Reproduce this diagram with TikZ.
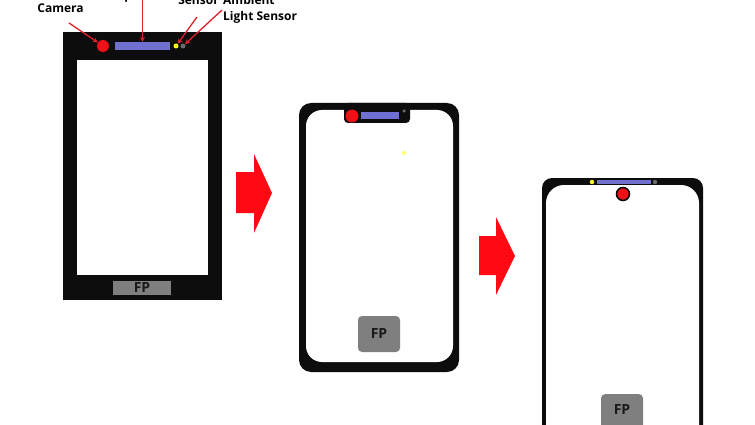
\documentclass[tikz,border=0pt]{standalone}
\usepackage{fontspec}
\setmainfont{Open Sans}
\usetikzlibrary{arrows.meta}
\definecolor{bez}{HTML}{0D0D0D}
\definecolor{camred}{HTML}{F01018}
\definecolor{spkblue}{HTML}{7070D0}
\definecolor{dotgrey}{HTML}{6A6A6A}
\definecolor{fpgrey}{HTML}{7F7F7F}
\definecolor{arrred}{HTML}{FF0A14}
\definecolor{linered}{HTML}{E0202A}
\definecolor{sensyel}{HTML}{FFFF20}
\tikzset{
  lab/.style={font=\fontsize{12}{14}\selectfont\bfseries, inner sep=0pt, text=black},
  fplab/.style={font=\fontsize{14}{16}\selectfont\bfseries, inner sep=0pt, text=black!90},
  cam/.style={circle, fill=camred, inner sep=0pt, minimum size=#1},
  spk/.style={rectangle, fill=spkblue, inner sep=0pt},
  ydot/.style={circle, fill=sensyel, inner sep=0pt, minimum size=#1},
  gdot/.style={circle, fill=dotgrey, inner sep=0pt, minimum size=#1},
  fpbox/.style={rectangle, fill=fpgrey, inner sep=0pt, font=\fontsize{14}{16}\selectfont\bfseries, text=black!90},
  callout/.style={draw=linered, line width=1.3pt, -{Stealth[length=5pt,width=5pt]}},
  blockarrow/.style={fill=arrred}
}
\begin{document}
\begin{tikzpicture}[x=1pt,y=-1pt]
\useasboundingbox (0,0) rectangle (755,425);
\fill[white] (0,0) rectangle (755,425);
\clip (0,0) rectangle (755,425);

% ---------- Phone 1 ----------
\fill[bez] (63,32) rectangle (222,300);
\fill[white] (77,60) rectangle (208,275);
\node[cam=12pt] (cam1) at (103,46) {};
\node[spk, minimum width=55pt, minimum height=8pt] (spk1) at (142.5,46) {};
\node[ydot=5pt] (yel1) at (176,46) {};
\node[gdot=5pt] (gry1) at (183,46) {};
\node[fpbox, minimum width=58pt, minimum height=14pt] (fp1) at (142,288) {FP};

% labels
\node[lab, anchor=base] (lcam) at (60.5,13) {Camera};
\node[lab, anchor=base] (lspk) at (142,-0.5) {Speaker};
\node[lab, anchor=base] (lprox1) at (198.5,-11) {Proximity};
\node[lab, anchor=base] (lprox2) at (198.5,5) {Sensor};
\node[lab, anchor=base west] (lamb1) at (223,5) {Ambient};
\node[lab, anchor=base west] (lamb2) at (223,21) {Light Sensor};

\coordinate (ccam) at (69,23);
\coordinate (cspk) at (142.5,0);
\coordinate (cprox) at (197,17);
\coordinate (camb) at (222,10);
\draw[callout] (ccam) -- (cam1);
\draw[callout] (cspk) -- (spk1);
\draw[callout] (cprox) -- (yel1);
\draw[callout] (camb) -- (gry1);

% ---------- Arrow 1 ----------
\fill[blockarrow] (236,172) -- (254,172) -- (254,154) -- (272,193) -- (254,233) -- (254,213) -- (236,213) -- cycle;

% ---------- Phone 2 ----------
\fill[bez, rounded corners=12pt] (299,103) rectangle (459,372);
\fill[white, rounded corners=16pt] (306,110) rectangle (453,362);
\fill[bez, rounded corners=4pt] (344,103) rectangle (410,123);
\node[cam=13pt] (cam2) at (352,116) {};
\node[spk, minimum width=38pt, minimum height=7pt] (spk2) at (380,115.5) {};
\node[gdot=3.5pt] (gry2) at (404,111) {};
\node[ydot=4pt, fill=sensyel!70!white] (yel2) at (404,153) {};
\node[fpbox, rounded corners=4pt, minimum width=42pt, minimum height=36pt] (fp2) at (379,334) {FP};

% ---------- Arrow 2 ----------
\fill[blockarrow] (479,236) -- (496,236) -- (496,217) -- (515,256) -- (496,295) -- (496,275) -- (479,275) -- cycle;

% ---------- Phone 3 ----------
\fill[bez, rounded corners=10pt] (542,178) rectangle (703,460);
\fill[white, rounded corners=18pt] (546,185) rectangle (699,455);
\node[spk, minimum width=54pt, minimum height=4pt] (spk3) at (624,182) {};
\node[ydot=4.5pt] (yel3) at (592,182) {};
\node[gdot=4.5pt] (gry3) at (655,182) {};
\node[cam=13pt, draw=black, line width=1.5pt] (cam3) at (623,194) {};
\node[fpbox, rounded corners=4pt, minimum width=42pt, minimum height=40pt, anchor=north] (fp3box) at (622,394) {};
\node[fplab, anchor=center] (fp3) at (622,409) {FP};

\end{tikzpicture}
\end{document}
